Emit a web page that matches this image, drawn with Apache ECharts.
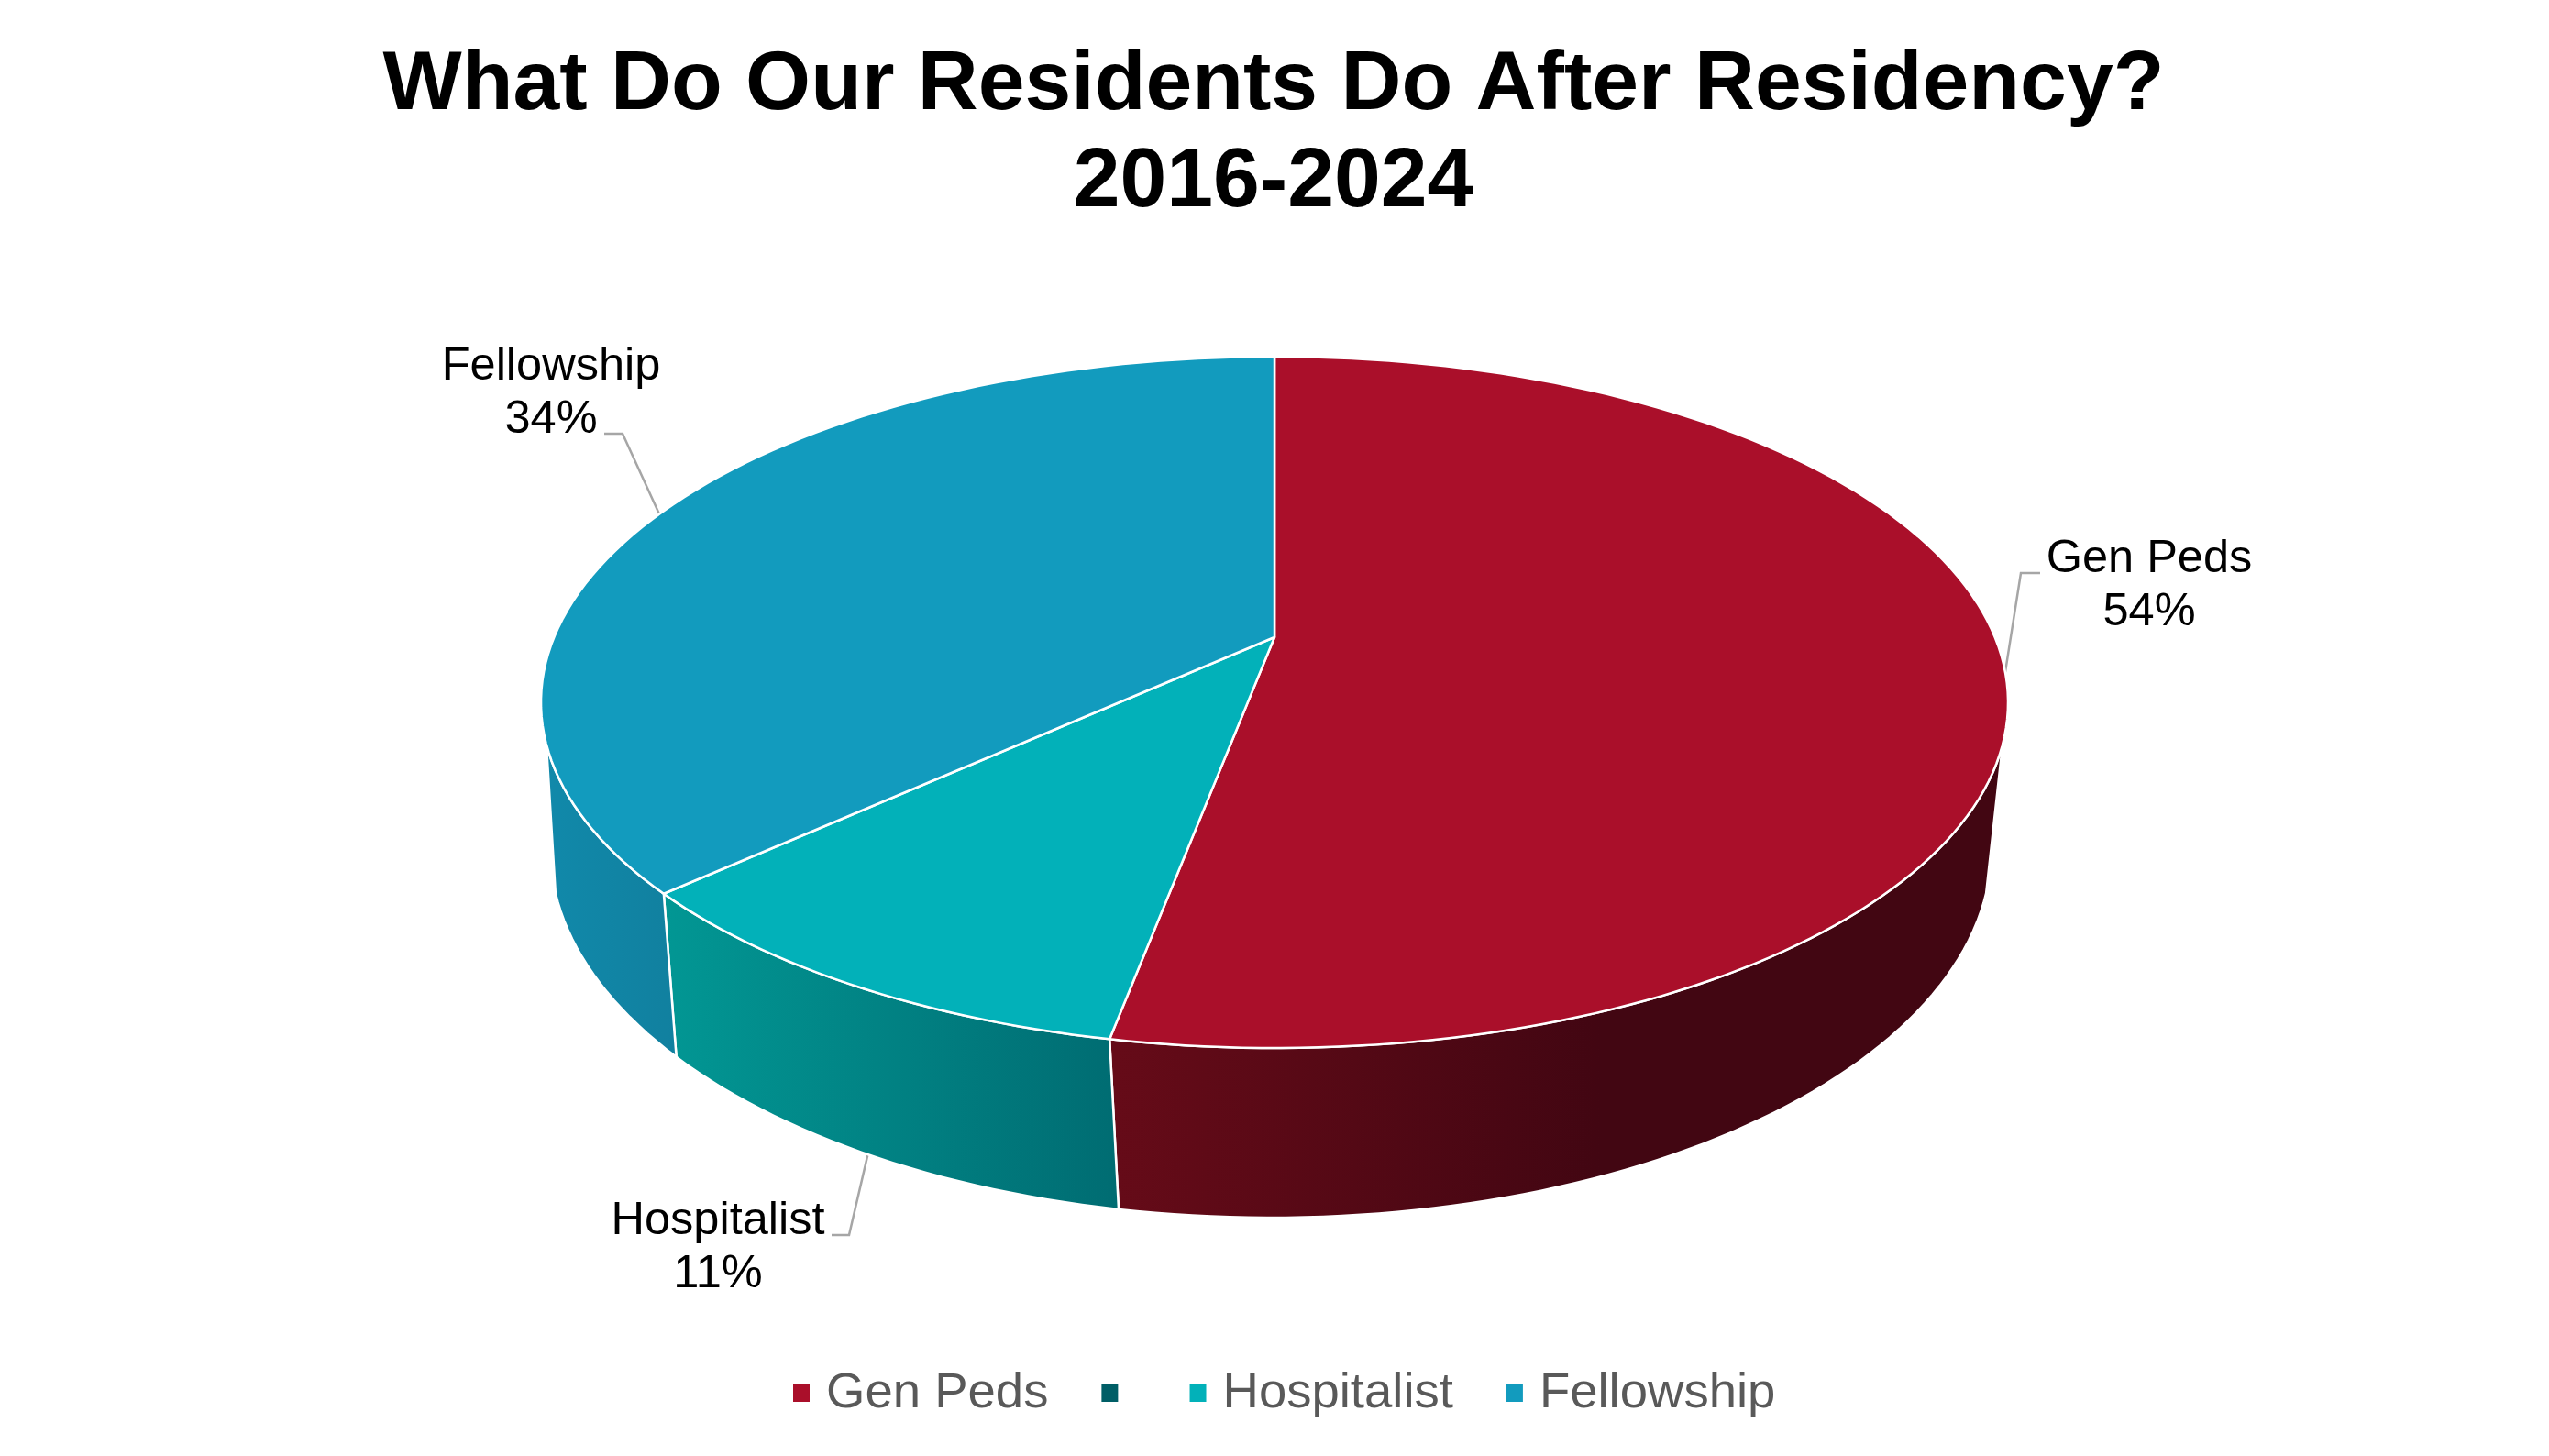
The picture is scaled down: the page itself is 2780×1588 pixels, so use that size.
<!DOCTYPE html>
<html><head><meta charset="utf-8">
<style>html,body{margin:0;padding:0;background:#fff}#c{width:2780px;height:1588px}</style>
<script src="https://cdn.jsdelivr.net/npm/echarts@6/dist/echarts.min.js"></script></head>
<body><div id="c"></div>
<script>
const titleText = 'What Do Our Residents Do After Residency?\n2016-2024';
const categories = ['Gen Peds', ' ', 'Hospitalist', 'Fellowship'];
const values = [54, 0, 11.48, 34.42];

const topColors = ['#AA0F2A', '#005E66', '#02B1B9', '#129BBE'];
const sideStops = [
  [[0, '#660B18'], [0.55, '#420612'], [1, '#420612']],
  [[0, '#005E66'], [1, '#005E66']],
  [[0, '#029794'], [1, '#006C72']],
  [[0, '#1189AA'], [1, '#11809F']]
];
const FONT = '"Liberation Sans", Arial, sans-serif';
const topRim = {cx: 1390, cy: 766, rx: 800, ry: 377};
const botRim = {cx: 1386, cy: 925, rx: 786, ry: 403};
const apex = [1390, 695];
const sideRange = [97, 263];
const bottomShift = -0.8;
// Small angular correction standing in for the 3-D perspective of the original chart
const warp = {a: -9.9, b: -8.4};
const labelLayouts = [
  {rim: 'top', t: 85, elbow: [2204, 625], end: [2225, 625], text: [2344, 581]},
  null,
  {rim: 'bot', t: 214, elbow: [926, 1347], end: [907, 1347], text: [783, 1303]},
  {rim: 'top', t: 303, elbow: [679, 473], end: [659, 473], text: [601, 371]}
];

const total = values.reduce((a, b) => a + b, 0);
const starts = [];
values.reduce((acc, v, i) => { starts[i] = acc; return acc + v; }, 0);

function project(deg) {
  const r = deg * Math.PI / 180;
  return deg + warp.a * Math.sin(r) + warp.b * Math.sin(2 * r);
}
function pt(rim, deg) {
  const a = deg * Math.PI / 180;
  return [rim.cx + rim.rx * Math.sin(a), rim.cy - rim.ry * Math.cos(a)];
}
function arc(rim, a, b) {
  const n = Math.max(2, Math.ceil(Math.abs(b - a) / 1.5)), out = [];
  for (let i = 0; i <= n; i++) out.push(pt(rim, a + (b - a) * i / n));
  return out;
}
function renderSlice(i) {
  return function (params, api) {
    const v = api.value(0);
    if (!v) return {type: 'group', children: []};
    const a0 = project(starts[i] / total * 360), a1 = project((starts[i] + v) / total * 360);
    const kids = [];
    kids.push({
      type: 'polygon', z2: 10,
      shape: {points: [apex].concat(arc(topRim, a0, a1))},
      style: {fill: topColors[i], stroke: '#fff', lineWidth: 2.5, lineJoin: 'round'}
    });
    const s0 = Math.max(a0, sideRange[0]), s1 = Math.min(a1, sideRange[1]);
    if (s1 > s0) {
      const b0 = s0 === a0 ? s0 + bottomShift : s0, b1 = s1 === a1 ? s1 + bottomShift : s1;
      kids.push({
        type: 'polygon', z2: 5,
        shape: {points: arc(topRim, s0, s1).concat(arc(botRim, b1, b0))},
        style: {
          fill: new echarts.graphic.LinearGradient(0, 0, 1, 0,
            sideStops[i].map(s => ({offset: s[0], color: s[1]}))),
          stroke: '#fff', lineWidth: 2.5
        }
      });
    }
    const L = labelLayouts[i];
    if (L) {
      const start = pt(L.rim === 'top' ? topRim : botRim, L.t);
      kids.push({
        type: 'polyline', z2: 1,
        shape: {points: [start, L.elbow, L.end]},
        style: {fill: 'none', stroke: '#A6A6A6', lineWidth: 2.5}
      });
      kids.push({
        type: 'text', z2: 20,
        style: {
          x: L.text[0], y: L.text[1],
          text: categories[i] + '\n' + Math.round(v / total * 100) + '%',
          font: '50.5px ' + FONT, fill: '#000', align: 'center', verticalAlign: 'top', lineHeight: 58
        }
      });
    }
    return {type: 'group', children: kids};
  };
}

const chart = echarts.init(document.getElementById('c'), null, {renderer: 'canvas'});
chart.setOption({
  animation: false,
  backgroundColor: '#fff',
  title: {
    text: titleText, left: 1384, top: 36, textAlign: 'center',
    textStyle: {fontFamily: FONT, fontWeight: 'bold', fontSize: 91.3, lineHeight: 106, color: '#000'}
  },
  legend: {
    left: 860, top: 1487, itemWidth: 18, itemHeight: 19, itemGap: 58, icon: 'rect', selectedMode: false,
    data: categories.map((name, i) => ({
      name,
      itemStyle: {color: topColors[i]},
      textStyle: {padding: name.trim() ? [0, 0, 0, 13] : 0}
    })),
    textStyle: {fontFamily: FONT, fontSize: 54.5, color: '#595959'}
  },
  series: categories.map((name, i) => ({
    type: 'custom', name, coordinateSystem: 'none', silent: true,
    itemStyle: {color: topColors[i]},
    renderItem: renderSlice(i),
    data: [[values[i]]]
  }))
});
</script></body></html>
